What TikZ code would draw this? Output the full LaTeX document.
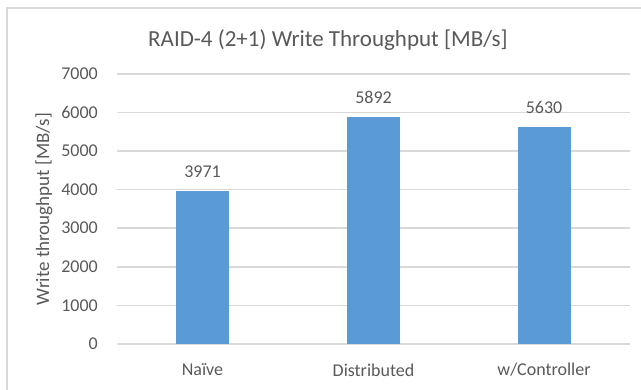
\documentclass[tikz,border=0pt]{standalone}
\usepackage{fontspec}
\setmainfont{Carlito}
\usepackage{tikz}

\definecolor{barblue}{HTML}{5B9BD5}
\definecolor{gridgray}{HTML}{D9D9D9}
\definecolor{txtgray}{HTML}{595959}

\tikzset{
  ticklabel/.style={anchor=east,inner sep=0pt,text=txtgray,
    font=\fontsize{18}{18}\selectfont},
  catlabel/.style={inner sep=0pt,text=txtgray,
    font=\fontsize{18}{18}\selectfont},
  vallabel/.style={inner sep=0pt,text=txtgray,
    font=\fontsize{18}{18}\selectfont},
  gridline/.style={draw=gridgray,line width=1.5pt},
  bar/.style={fill=barblue}
}

\begin{document}
\begin{tikzpicture}[x=1pt,y=-1pt]
  \useasboundingbox (0,0) rectangle (641,390);

  % chart frame (only left and top edges are visible)
  \draw[gridgray,line width=1.2pt] (7,390) -- (7,8) -- (641,8);

  % title
  \path (328,40) node[inner sep=0pt,text=txtgray,
        font=\fontsize{23}{23}\selectfont] (title)
        {RAID-4 (2+1) Write Throughput [MB/s]};

  % axis title
  \path (44,209) node[rotate=90,inner sep=0pt,text=txtgray,
        font=\fontsize{19}{19}\selectfont] (ytitle)
        {Write throughput [MB/s]};

  % grid and tick labels
  \foreach \val [count=\i from 0] in {0,1000,...,7000}
  { \draw[gridline] (117,{344-\i*38.6}) -- (630,{344-\i*38.6});
    \path (98,{344-\i*38.6}) node[ticklabel] (tick\i) {\val};
  }

  % bars
  \foreach \cx/\val/\nm/\lab in {202.5/3971/naive/{Naïve},
                                 373.5/5892/distr/{Distributed},
                                 544/5630/ctrl/{w/Controller}}
  { \fill[bar] ({\cx-26.5},344) rectangle ({\cx+26.5},{344-\val*0.0386});
    \path (\cx,{344-\val*0.0386-19}) node[vallabel] (val\nm) {\val};
    \path (\cx,370) node[catlabel] (cat\nm) {\lab};
  }
\end{tikzpicture}
\end{document}
